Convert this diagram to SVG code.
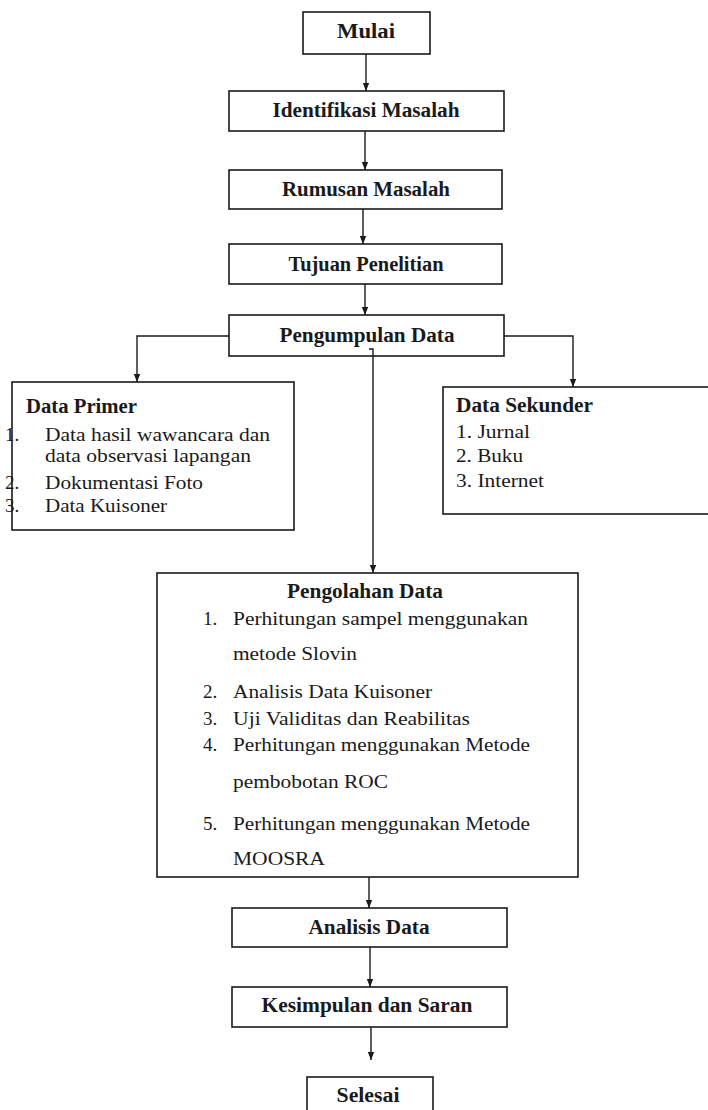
<svg xmlns="http://www.w3.org/2000/svg" width="708" height="1110" viewBox="0 0 708 1110">
<defs>
<marker id="arr" viewBox="0 0 10 10" refX="10" refY="5" markerWidth="8" markerHeight="8" markerUnits="userSpaceOnUse" orient="auto"><path d="M0,1 L10,5 L0,9 z" fill="#1a1a1a"/></marker>
<style>
.box{fill:#fff;stroke:#1a1a1a;stroke-width:1.6}
.t{font-family:"Liberation Serif","Times New Roman","DejaVu Serif",serif;font-size:19px;fill:#1a1a1a}
.b{font-weight:bold;font-size:20px}
.c{text-anchor:middle}
.ln{fill:none;stroke:#1a1a1a;stroke-width:1.4}
</style>
</defs>
<rect width="708" height="1110" fill="#fff"/>
<g id="mulai"><rect class="box" x="303" y="12" width="127" height="42"/><text class="t b c" x="366" y="38" textLength="58" lengthAdjust="spacingAndGlyphs">Mulai</text></g>
<g id="identifikasi"><rect class="box" x="229" y="91" width="275" height="40"/><text class="t b c" x="366" y="117" textLength="187" lengthAdjust="spacingAndGlyphs">Identifikasi Masalah</text></g>
<g id="rumusan"><rect class="box" x="229" y="170" width="273" height="39"/><text class="t b c" x="366" y="196" textLength="168" lengthAdjust="spacingAndGlyphs">Rumusan Masalah</text></g>
<g id="tujuan"><rect class="box" x="229" y="244" width="273" height="40"/><text class="t b c" x="366" y="271" textLength="155" lengthAdjust="spacingAndGlyphs">Tujuan Penelitian</text></g>
<g id="pengumpulan"><rect class="box" x="229" y="315" width="275" height="41"/><text class="t b c" x="367" y="342" textLength="175" lengthAdjust="spacingAndGlyphs">Pengumpulan Data</text></g>
<g id="primer"><rect class="box" x="12" y="382" width="282" height="148"/>
<text class="t b" x="26" y="413" textLength="111" lengthAdjust="spacingAndGlyphs">Data Primer</text>
<text class="t" x="5" y="441">1.</text><text class="t" x="45" y="441" textLength="225" lengthAdjust="spacingAndGlyphs">Data hasil wawancara dan</text>
<text class="t" x="45" y="462" textLength="206" lengthAdjust="spacingAndGlyphs">data observasi lapangan</text>
<text class="t" x="5" y="489">2.</text><text class="t" x="45" y="489" textLength="158" lengthAdjust="spacingAndGlyphs">Dokumentasi Foto</text>
<text class="t" x="5" y="512">3.</text><text class="t" x="45" y="512" textLength="122" lengthAdjust="spacingAndGlyphs">Data Kuisoner</text>
</g>
<g id="sekunder"><rect class="box" x="443" y="387" width="272" height="127"/>
<text class="t b" x="456" y="412" textLength="137" lengthAdjust="spacingAndGlyphs">Data Sekunder</text>
<text class="t" x="456" y="438" textLength="74" lengthAdjust="spacingAndGlyphs">1. Jurnal</text>
<text class="t" x="456" y="462" textLength="67" lengthAdjust="spacingAndGlyphs">2. Buku</text>
<text class="t" x="456" y="487" textLength="88" lengthAdjust="spacingAndGlyphs">3. Internet</text>
</g>
<g id="pengolahan"><rect class="box" x="157" y="573" width="421" height="304"/>
<text class="t b c" x="365" y="598" textLength="156" lengthAdjust="spacingAndGlyphs">Pengolahan Data</text>
<text class="t" x="203" y="625">1.</text><text class="t" x="233" y="625" textLength="295" lengthAdjust="spacingAndGlyphs">Perhitungan sampel menggunakan</text>
<text class="t" x="233" y="660" textLength="124" lengthAdjust="spacingAndGlyphs">metode Slovin</text>
<text class="t" x="203" y="698">2.</text><text class="t" x="233" y="698" textLength="199" lengthAdjust="spacingAndGlyphs">Analisis Data Kuisoner</text>
<text class="t" x="203" y="725">3.</text><text class="t" x="233" y="725" textLength="237" lengthAdjust="spacingAndGlyphs">Uji Validitas dan Reabilitas</text>
<text class="t" x="203" y="751">4.</text><text class="t" x="233" y="751" textLength="297" lengthAdjust="spacingAndGlyphs">Perhitungan menggunakan Metode</text>
<text class="t" x="233" y="788" textLength="155" lengthAdjust="spacingAndGlyphs">pembobotan ROC</text>
<text class="t" x="203" y="830">5.</text><text class="t" x="233" y="830" textLength="297" lengthAdjust="spacingAndGlyphs">Perhitungan menggunakan Metode</text>
<text class="t" x="233" y="865" textLength="92" lengthAdjust="spacingAndGlyphs">MOOSRA</text>
</g>
<g id="analisis"><rect class="box" x="232" y="908" width="275" height="39"/><text class="t b c" x="369" y="934" textLength="121" lengthAdjust="spacingAndGlyphs">Analisis Data</text></g>
<g id="kesimpulan"><rect class="box" x="232" y="987" width="275" height="40"/><text class="t b c" x="367" y="1012" textLength="211" lengthAdjust="spacingAndGlyphs">Kesimpulan dan Saran</text></g>
<g id="selesai"><rect class="box" x="307" y="1077" width="126" height="40"/><text class="t b c" x="368" y="1102" textLength="63" lengthAdjust="spacingAndGlyphs">Selesai</text></g>
<g id="connectors">
<path class="ln" d="M366,54 V91" marker-end="url(#arr)"/>
<path class="ln" d="M365,131 V170" marker-end="url(#arr)"/>
<path class="ln" d="M363,209 V244" marker-end="url(#arr)"/>
<path class="ln" d="M365,284 V315" marker-end="url(#arr)"/>
<path class="ln" d="M229,336 H137 V382" marker-end="url(#arr)"/>
<path class="ln" d="M504,336 H573 V387" marker-end="url(#arr)"/>
<path class="ln" d="M369,349 H373 V573" marker-end="url(#arr)"/>
<path class="ln" d="M369,877 V908" marker-end="url(#arr)"/>
<path class="ln" d="M370,947 V987" marker-end="url(#arr)"/>
<path class="ln" d="M371,1027 V1060" marker-end="url(#arr)"/>
</g>
</svg>
